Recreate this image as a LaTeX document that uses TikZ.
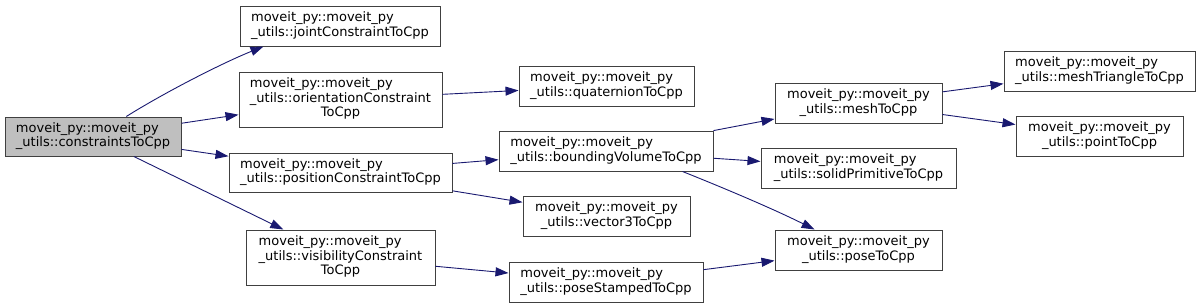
\documentclass[tikz,border=0pt]{standalone}
\usepackage{fontspec}
\setmainfont{DejaVu Sans}
\usepackage{tikz}
\usetikzlibrary{arrows.meta}
\usepackage{xcolor}
\definecolor{edgeblue}{HTML}{191970}
\definecolor{boxline}{HTML}{404040}
\definecolor{rootfill}{HTML}{BFBFBF}

% first lines left, last line centred
\newcommand{\calllbl}[2]{\begin{tabular}{@{}l@{}}#1\\\multicolumn{1}{@{}c@{}}{#2}\end{tabular}}

\begin{document}
\begin{tikzpicture}[
    x=1pt, y=-1pt,
    fnbox/.style={
      draw=boxline, line width=1pt, fill=white, rectangle,
      font=\fontsize{13}{14.5}\selectfont, inner sep=0pt,
      minimum height=40pt
    },
    rootbox/.style={fnbox, fill=rootfill},
    call/.style={-{Triangle[length=13pt,width=9pt]}, line width=0.9pt, edgeblue},
  ]
  \useasboundingbox (0,0) rectangle (1200,308);

  % =================== Caller ===================
  \node[rootbox, minimum width=176pt, minimum height=39pt] (root) at (93,136.5)
    {\calllbl{moveit\_py::moveit\_py}{\_utils::constraintsToCpp}};

  % =================== Column 1 ===================
  \node[fnbox, minimum width=200pt] (joint) at (340,26)
    {\calllbl{moveit\_py::moveit\_py}{\_utils::jointConstraintToCpp}};
  \node[fnbox, minimum width=203pt, minimum height=55pt] (orient) at (340.5,99.5)
    {\calllbl{moveit\_py::moveit\_py\\\_utils::orientationConstraint}{ToCpp}};
  \node[fnbox, minimum width=223pt, minimum height=39pt] (position) at (340.5,172.5)
    {\calllbl{moveit\_py::moveit\_py}{\_utils::positionConstraintToCpp}};
  \node[fnbox, minimum width=189pt, minimum height=55pt] (visib) at (340.5,257.5)
    {\calllbl{moveit\_py::moveit\_py\\\_utils::visibilityConstraint}{ToCpp}};

  % =================== Column 2 ===================
  \node[fnbox, minimum width=175pt] (quat) at (606.5,86)
    {\calllbl{moveit\_py::moveit\_py}{\_utils::quaternionToCpp}};
  \node[fnbox, minimum width=214pt] (bvol) at (606,151)
    {\calllbl{moveit\_py::moveit\_py}{\_utils::boundingVolumeToCpp}};
  \node[fnbox, minimum width=167pt] (vecthree) at (606.5,216)
    {\calllbl{moveit\_py::moveit\_py}{\_utils::vector3ToCpp}};
  \node[fnbox, minimum width=194pt] (posest) at (606,282)
    {\calllbl{moveit\_py::moveit\_py}{\_utils::poseStampedToCpp}};

  % =================== Column 3 ===================
  \node[fnbox, minimum width=167pt] (mesh) at (858.5,103)
    {\calllbl{moveit\_py::moveit\_py}{\_utils::meshToCpp}};
  \node[fnbox, minimum width=195pt] (solid) at (858.5,168)
    {\calllbl{moveit\_py::moveit\_py}{\_utils::solidPrimitiveToCpp}};
  \node[fnbox, minimum width=167pt] (pose) at (858.5,250)
    {\calllbl{moveit\_py::moveit\_py}{\_utils::poseToCpp}};

  % =================== Column 4 ===================
  \node[fnbox, minimum width=191pt] (meshtri) at (1099.5,71)
    {\calllbl{moveit\_py::moveit\_py}{\_utils::meshTriangleToCpp}};
  \node[fnbox, minimum width=167pt] (point) at (1099.5,136)
    {\calllbl{moveit\_py::moveit\_py}{\_utils::pointToCpp}};

  % =================== Calls ===================
  \draw[call] (root.31) .. controls +(40,-25) and +(-40,16) .. (joint.195);
  \draw[call] (root) -- (orient);
  \draw[call] (root) -- (position);
  \draw[call] (root) -- (visib);

  \draw[call] (orient) -- (quat);
  \draw[call] (position) -- (bvol);
  \draw[call] (position) -- (vecthree);
  \draw[call] (visib) -- (posest);

  \draw[call] (bvol) -- (mesh);
  \draw[call] (bvol) -- (solid);
  \draw[call] (bvol.-15) .. controls +(45,18) and +(-40,-20) .. (pose.155);
  \draw[call] (posest) -- (pose);

  \draw[call] (mesh) -- (meshtri);
  \draw[call] (mesh) -- (point);

\end{tikzpicture}
\end{document}
